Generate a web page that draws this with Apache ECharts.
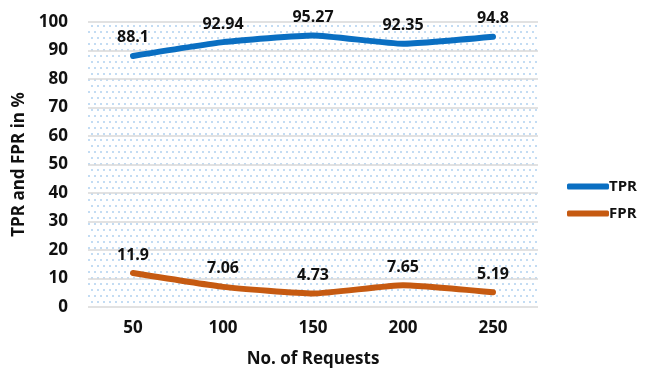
<!DOCTYPE html>
<html>
<head>
<meta charset="utf-8">
<script src="https://cdn.jsdelivr.net/npm/echarts@6/dist/echarts.min.js"></script>
<style>
  html, body { margin: 0; padding: 0; background: #fff; }
  #chart { width: 646px; height: 374px; }
</style>
</head>
<body>
<div id="chart"></div>
<script>
// data
const requests = ['50', '100', '150', '200', '250'];
const tpr = [88.1, 92.94, 95.27, 92.35, 94.8];
const fpr = [11.9, 7.06, 4.73, 7.65, 5.19];

const FONT = '"Open Sans", "DejaVu Sans", sans-serif';

// dotted fill like the excel pattern
function dotPattern() {
  const c = document.createElement('canvas');
  c.width = 6; c.height = 12;
  const ctx = c.getContext('2d');
  ctx.fillStyle = '#fff';
  ctx.fillRect(0, 0, 6, 12);
  ctx.fillStyle = '#c3dcf3';
  ctx.fillRect(1, 1, 2, 2);
  ctx.fillRect(4, 7, 2, 2);
  return c;
}

const chart = echarts.init(document.getElementById('chart'), null, { renderer: 'canvas' });

const labelStyle = {
  show: true, position: 'top', distance: 10,
  color: '#111', fontSize: 16, fontWeight: 'bold', fontFamily: FONT
};

chart.setOption({
  animation: false,
  grid: {
    left: 88, right: 108, top: 22, bottom: 67,
    show: true, borderWidth: 0,
    backgroundColor: { image: dotPattern(), repeat: 'repeat' }
  },
  legend: {
    orient: 'vertical', left: 562, top: 174, itemGap: 12,
    itemWidth: 42, itemHeight: 6,
    icon: 'roundRect',
    textStyle: { color: '#111', fontSize: 15, fontWeight: 'bold', fontFamily: FONT, padding: [0, 0, 0, -5] },
    data: ['TPR', 'FPR']
  },
  xAxis: {
    type: 'category', data: requests, boundaryGap: true,
    name: 'No. of Requests', nameLocation: 'middle', nameGap: 44,
    nameTextStyle: { color: '#111', fontSize: 17, fontWeight: 'bold', fontFamily: FONT },
    axisLine: { show: false }, axisTick: { show: false },
    axisLabel: { color: '#111', fontSize: 17, fontWeight: 'bold', fontFamily: FONT, margin: 13 }
  },
  yAxis: {
    type: 'value', min: 0, max: 100, interval: 10,
    name: 'TPR and FPR in %', nameLocation: 'middle', nameGap: 52,
    nameTextStyle: { color: '#111', fontSize: 17, fontWeight: 'bold', fontFamily: FONT },
    axisLabel: { color: '#111', fontSize: 17, fontWeight: 'bold', fontFamily: FONT, margin: 20 },
    splitLine: { lineStyle: { color: '#d9d9d9', width: 1.5 } }
  },
  series: [
    {
      name: 'TPR', type: 'line', data: tpr, smooth: 0.15,
      symbol: 'circle', symbolSize: 0,
      lineStyle: { color: '#0a6fc2', width: 6, cap: 'round' },
      itemStyle: { color: '#0a6fc2' },
      label: labelStyle
    },
    {
      name: 'FPR', type: 'line', data: fpr, smooth: 0.15,
      symbol: 'circle', symbolSize: 0,
      lineStyle: { color: '#c65a11', width: 6, cap: 'round' },
      itemStyle: { color: '#c65a11' },
      label: labelStyle
    }
  ]
});
</script>
</body>
</html>
